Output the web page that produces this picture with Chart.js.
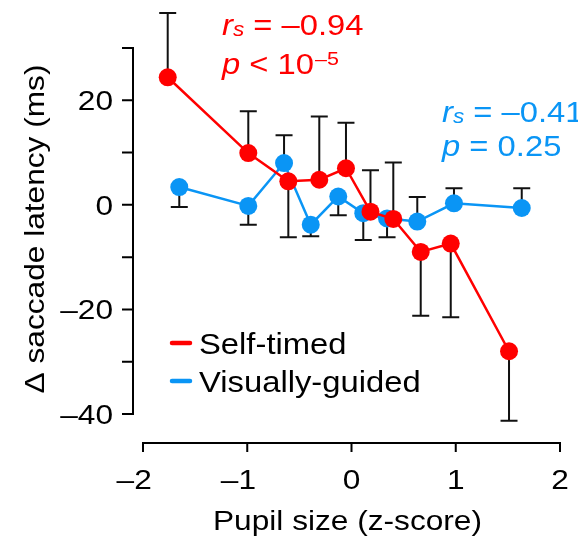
<!DOCTYPE html>
<html>
<head>
<meta charset="utf-8">
<script src="https://cdn.jsdelivr.net/npm/chart.js@4/dist/chart.umd.min.js"></script>
<style>
  html, body { margin: 0; padding: 0; background: #fff; }
  #wrap { width: 578px; height: 539px; }
</style>
</head>
<body>
<div id="wrap"><canvas id="myChart" width="578" height="539"></canvas></div>
<script>
// pupil size bins (z-score) and change in saccade latency (ms)
const selfX = [-1.763, -0.99, -0.606, -0.309, -0.053, 0.182, 0.401, 0.664, 0.952, 1.511];
const selfY = [24.4, 9.9, 4.5, 4.8, 7.0, -1.3, -2.7, -9.0, -7.4, -28.0];
const selfErrUp = [12.3, 8.0, 0, 12.1, 8.7, 7.9, 10.8, 0, 0, 0];
const selfErrDown = [0, 0, 10.7, 0, 0, 0, 0, 12.2, 14.1, 13.3];

const visX = [-1.652, -0.99, -0.647, -0.391, -0.127, 0.113, 0.341, 0.631, 0.983, 1.633];
const visY = [3.4, -0.2, 8.0, -3.8, 1.6, -1.6, -2.6, -3.2, 0.3, -0.6];
const visErrUp = [0, 0, 5.3, 0, 0, 0, 0, 4.7, 2.9, 3.8];
const visErrDown = [3.8, 3.6, 0, 2.2, 3.6, 5.1, 3.6, 0, 0, 0];

const xTicks = [-2, -1, 0, 1, 2];
const yTicks = [-40, -30, -20, -10, 0, 10, 20, 30];
const yLabelled = [-40, -20, 0, 20];

const RED = '#ff0000';
const BLUE = '#0a95f5';
const FONT = '"Liberation Sans", Arial, sans-serif';
const SX = 1.13; // type in the figure runs a bit wider than Liberation Sans

const dash = v => String(v).replace('-', '\u2013');

function putText(ctx, str, x, y, font, align = 'left', rot = 0) {
  ctx.save();
  ctx.translate(x, y);
  ctx.rotate(rot);
  ctx.scale(SX, 1);
  ctx.font = font;
  ctx.textAlign = align;
  ctx.textBaseline = 'alphabetic';
  ctx.fillText(str, 0, 0);
  ctx.restore();
  ctx.font = font;
  return ctx.measureText(str).width * SX;
}

// axis lines sit away from the plot, so they are drawn here
const spines = {
  id: 'spines',
  afterDraw(chart) {
    const { ctx, scales: { x, y } } = chart;
    const xLine = x.left - 10;
    const yLine = y.bottom + 29;
    ctx.save();
    ctx.strokeStyle = '#000';
    ctx.lineWidth = 2;
    ctx.beginPath();
    ctx.moveTo(xLine - 11, y.getPixelForValue(30));
    ctx.lineTo(xLine, y.getPixelForValue(30));
    ctx.lineTo(xLine, y.getPixelForValue(-40));
    ctx.lineTo(xLine - 11, y.getPixelForValue(-40));
    yTicks.forEach(v => {
      const p = y.getPixelForValue(v);
      ctx.moveTo(xLine, p);
      ctx.lineTo(xLine - 11, p);
    });
    ctx.moveTo(x.getPixelForValue(-2), yLine + 9);
    ctx.lineTo(x.getPixelForValue(-2), yLine);
    ctx.lineTo(x.getPixelForValue(2), yLine);
    ctx.lineTo(x.getPixelForValue(2), yLine + 9);
    xTicks.forEach(v => {
      const p = x.getPixelForValue(v);
      ctx.moveTo(p, yLine);
      ctx.lineTo(p, yLine + 9);
    });
    ctx.stroke();

    // tick labels and titles
    const tickFont = '28px ' + FONT;
    ctx.fillStyle = '#000';
    xTicks.forEach(v => {
      const px = x.getPixelForValue(v);
      const digits = String(Math.abs(v));
      ctx.font = tickFont;
      const w = ctx.measureText(digits).width * SX;
      putText(ctx, digits, px - w / 2, 489, tickFont);
      if (v < 0) putText(ctx, '\u2013', px - w / 2, 489, tickFont, 'right');
    });
    yLabelled.forEach(v => {
      putText(ctx, dash(v), 113, y.getPixelForValue(v) + 10, tickFont, 'right');
    });
    putText(ctx, 'Pupil size (z-score)', (x.left + x.right) / 2 - 4, 530, tickFont, 'center');
    putText(ctx, '\u0394 saccade latency (ms)', 44, (y.top + y.bottom) / 2 - 2, tickFont, 'center', -Math.PI / 2);
    ctx.restore();
  }
};

// one-sided error bars, under the markers
const errorBars = {
  id: 'errorBars',
  beforeDatasetsDraw(chart) {
    const { ctx, scales: { x, y } } = chart;
    const groups = [
      [visX, visY, visErrUp, visErrDown],
      [selfX, selfY, selfErrUp, selfErrDown],
    ];
    ctx.save();
    ctx.strokeStyle = '#111';
    ctx.lineWidth = 2;
    groups.forEach(([xs, ys, up, down]) => {
      xs.forEach((xv, i) => {
        const px = x.getPixelForValue(xv);
        const py0 = y.getPixelForValue(ys[i]);
        [[up[i], 1], [down[i], -1]].forEach(([e, dir]) => {
          if (!e) return;
          const py1 = y.getPixelForValue(ys[i] + dir * e);
          ctx.beginPath();
          ctx.moveTo(px, py0);
          ctx.lineTo(px, py1);
          ctx.moveTo(px - 8.5, py1);
          ctx.lineTo(px + 8.5, py1);
          ctx.stroke();
        });
      });
    });
    ctx.restore();
  }
};

// stats text and the small legend inside the plot
const notes = {
  id: 'notes',
  afterDraw(chart) {
    const { ctx } = chart;
    ctx.save();

    const stat = (x0, y1, y2, color, r, pText, sup) => {
      ctx.fillStyle = color;
      let cx = x0;
      cx += putText(ctx, 'r', cx, y1, 'italic 29px ' + FONT);
      cx += putText(ctx, 's', cx, y1 + 1, 'italic 20px ' + FONT);
      putText(ctx, ' = ' + r, cx, y1, '29px ' + FONT);
      cx = x0;
      cx += putText(ctx, 'p', cx, y2, 'italic 29px ' + FONT);
      cx += putText(ctx, pText, cx, y2, '29px ' + FONT);
      if (sup) putText(ctx, sup, cx + 1, y2 - 9, '19px ' + FONT);
    };
    stat(222, 35, 74, RED, '\u20130.94', ' < 10', '\u20135');
    stat(442, 122, 156, BLUE, '\u20130.41', ' = 0.25', null);

    const items = [['Self-timed', RED, 343, 354], ['Visually-guided', BLUE, 381, 392]];
    items.forEach(([label, color, ly, by]) => {
      ctx.strokeStyle = color;
      ctx.lineWidth = 4.5;
      ctx.lineCap = 'round';
      ctx.beginPath();
      ctx.moveTo(172, ly);
      ctx.lineTo(190, ly);
      ctx.stroke();
      ctx.fillStyle = '#000';
      putText(ctx, label, 199, by, '29px ' + FONT);
    });
    ctx.restore();
  }
};

const toPoints = (xs, ys) => xs.map((v, i) => ({ x: v, y: ys[i] }));

const myChartRef = document.getElementById('myChart').getContext('2d');
new Chart(myChartRef, {
  type: 'scatter',
  data: {
    datasets: [
      {
        label: 'Self-timed',
        data: toPoints(selfX, selfY),
        showLine: true,
        borderColor: RED,
        backgroundColor: RED,
        borderWidth: 2.5,
        pointRadius: 9,
        pointHoverRadius: 9,
        pointBorderWidth: 0,
        clip: false,
      },
      {
        label: 'Visually-guided',
        data: toPoints(visX, visY),
        showLine: true,
        borderColor: BLUE,
        backgroundColor: BLUE,
        borderWidth: 2.5,
        pointRadius: 9,
        pointHoverRadius: 9,
        pointBorderWidth: 0,
        clip: false,
      },
    ],
  },
  options: {
    responsive: false,
    animation: false,
    layout: { padding: { top: 48, right: 18, left: 0, bottom: 0 } },
    plugins: { legend: { display: false }, tooltip: { enabled: false } },
    scales: {
      x: {
        type: 'linear',
        min: -2,
        max: 2,
        border: { display: false },
        grid: { display: false, drawTicks: false },
        ticks: { display: false, stepSize: 1 },
        afterFit: s => { s.height = 125; s.paddingLeft = 0; s.paddingRight = 0; },
      },
      y: {
        min: -40,
        max: 30,
        border: { display: false },
        grid: { display: false, drawTicks: false },
        ticks: { display: false, stepSize: 10 },
        afterFit: s => { s.width = 143; s.paddingTop = 0; s.paddingBottom = 0; },
      },
    },
  },
  plugins: [spines, errorBars, notes],
});
</script>
</body>
</html>
